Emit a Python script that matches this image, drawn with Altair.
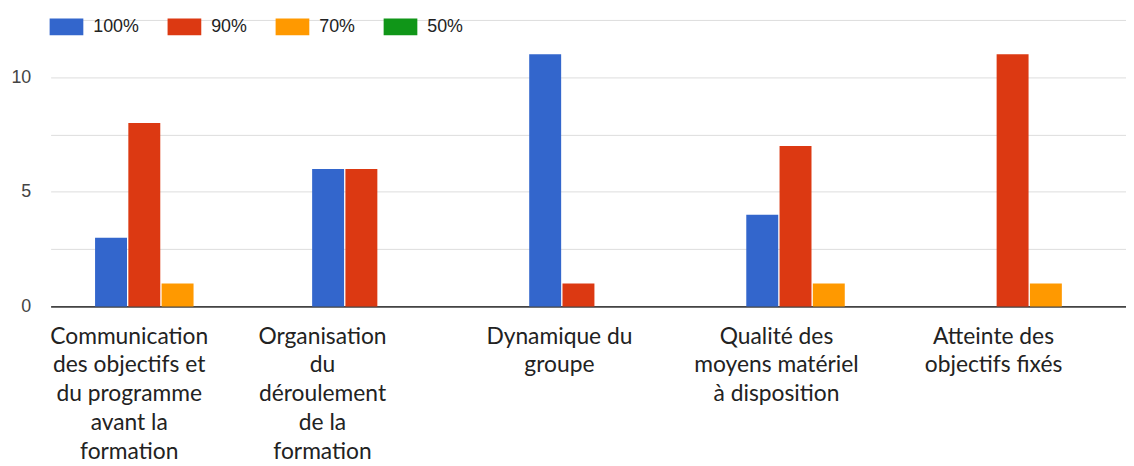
import altair as alt
import pandas as pd

categories = [
    "Communication\ndes objectifs et\ndu programme\navant la\nformation",
    "Organisation\ndu\ndéroulement\nde la\nformation",
    "Dynamique du\ngroupe",
    "Qualité des\nmoyens matériel\nà disposition",
    "Atteinte des\nobjectifs fixés",
]
series = ["100%", "90%", "70%", "50%"]
v100 = [3, 6, 11, 4, 0]
v90 = [8, 6, 1, 7, 11]
v70 = [1, 0, 0, 1, 1]
v50 = [0, 0, 0, 0, 0]
colors = ["#3366CC", "#DC3912", "#FF9900", "#109618"]
y_ticks = [0, 2.5, 5, 7.5, 10, 12.5]

rows = []
for s, vals in zip(series, [v100, v90, v70, v50]):
    for c, v in zip(categories, vals):
        rows.append({"category": c, "series": s, "value": v})
df = pd.DataFrame(rows)

label_offset = {
    "condition": [
        {"test": "indexof(datum.value, 'Organisation') == 0", "value": -56},
        {"test": "indexof(datum.value, 'Communication') == 0", "value": -32},
    ],
    "value": -36,
}

bars = alt.Chart(df).mark_bar().encode(
    x=alt.X(
        "category:N",
        sort=categories,
        scale=alt.Scale(paddingInner=0.393, paddingOuter=0.1735, align=0.59),
        axis=alt.Axis(
            title=None,
            labelAngle=0,
            labelExpr="split(datum.label, '\\n')",
            labelFont="Lato",
            labelFontSize=23,
            labelLineHeight=29,
            labelColor="#222222",
            labelPadding=19,
            labelBaseline="top",
            labelLimit=400,
            labelOverlap=False,
            labelOffset=label_offset,
            ticks=False,
            domainColor="#444444",
            domainWidth=2,
            grid=False,
        ),
    ),
    xOffset=alt.XOffset("series:N", sort=series, scale=alt.Scale(paddingInner=0.04)),
    y=alt.Y(
        "value:Q",
        scale=alt.Scale(domain=[0, 12.5], nice=False),
        axis=alt.Axis(
            values=y_ticks,
            labelExpr="datum.value % 5 == 0 ? datum.label : ''",
            title=None,
            ticks=False,
            domain=False,
            gridColor="#dddddd",
            labelPadding=20,
            labelFont="Liberation Sans",
            labelFontSize=18,
            labelColor="#444444",
        ),
    ),
    color=alt.Color(
        "series:N",
        sort=series,
        scale=alt.Scale(domain=series, range=colors),
        legend=alt.Legend(
            title=None,
            orient="none",
            legendX=-1,
            legendY=-10,
            direction="horizontal",
            symbolType="M-1,-0.5H1V0.5H-1Z",
            symbolSize=1156,
            symbolStrokeWidth=0,
            symbolOpacity=1,
            labelFont="Liberation Sans",
            labelFontSize=18,
            labelColor="#222222",
            labelOffset=10,
            columnPadding=28,
        ),
    ),
)

chart = bars.properties(
    width=1085,
    height=289,
    padding={"left": 2, "top": 0, "right": 0, "bottom": 0},
    background="white",
).configure_view(stroke=None)

chart.save("out.html", embed_options={"renderer": "svg", "actions": False})
